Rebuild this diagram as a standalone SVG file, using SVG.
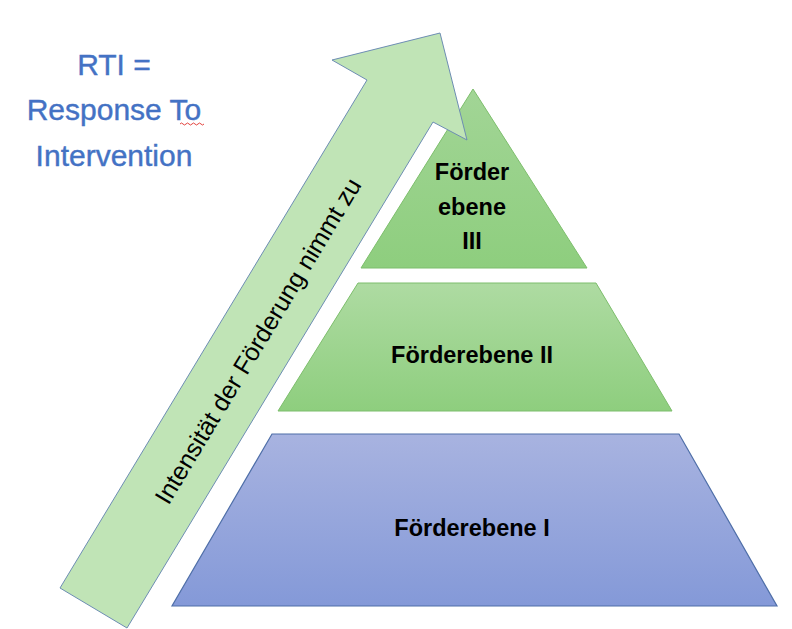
<svg xmlns="http://www.w3.org/2000/svg" width="792" height="629" viewBox="0 0 792 629">
  <defs>
    <linearGradient id="gGreen" x1="0" y1="0" x2="0" y2="1">
      <stop offset="0" stop-color="#AEDBA2"/>
      <stop offset="1" stop-color="#8ECE7E"/>
    </linearGradient>
    <linearGradient id="gGreen3" x1="0" y1="0" x2="0" y2="1">
      <stop offset="0" stop-color="#A2D596"/>
      <stop offset="1" stop-color="#8ECE7E"/>
    </linearGradient>
    <linearGradient id="gBlue" x1="0" y1="0" x2="0" y2="1">
      <stop offset="0" stop-color="#A8B3E0"/>
      <stop offset="1" stop-color="#8499D8"/>
    </linearGradient>
  </defs>
  <style>
    .lvl-green { stroke: #7DBE6C; stroke-width: 1; }
    .lvl-blue { stroke: #4F6FA8; stroke-width: 1.2; }
    .lbl { font-family: "Liberation Sans", Arial, sans-serif; font-weight: bold; font-size: 23.5px; fill: #000; text-anchor: middle; }
    .title { font-family: "Liberation Sans", Arial, sans-serif; font-size: 30px; fill: #4472C4; text-anchor: middle; stroke: #4472C4; stroke-width: 0.4; }
    .arrowtxt { font-family: "Liberation Sans", Arial, sans-serif; font-size: 25px; fill: #000; text-anchor: middle; }
  </style>
  <rect width="792" height="629" fill="#FFFFFF"/>

  <g id="title">
    <text class="title" x="114" y="75">RTI =</text>
    <text class="title" x="114" y="120">Response To</text>
    <text class="title" x="114" y="166">Intervention</text>
    <path d="M180,124 q1.5,-2 3,0 t3,0 t3,0 t3,0 t3,0 t3,0 t3,0 t3,0" fill="none" stroke="#E0302A" stroke-width="0.9"/>
  </g>

  <g id="level3">
    <polygon class="lvl-green" points="473,89 587,268 361,268" fill="url(#gGreen3)"/>
    <text class="lbl" x="472" y="180">Förder</text>
    <text class="lbl" x="472" y="215">ebene</text>
    <text class="lbl" x="472" y="249">III</text>
  </g>

  <g id="level2">
    <polygon class="lvl-green" points="358,283 596,283 672,411 278,411" fill="url(#gGreen)"/>
    <text class="lbl" x="472" y="363">Förderebene II</text>
  </g>

  <g id="level1">
    <polygon class="lvl-blue" points="272,434 679,434 777,606 172,606" fill="url(#gBlue)"/>
    <text class="lbl" x="472" y="536">Förderebene I</text>
  </g>

  <g id="connectors">
    <g id="arrow">
      <polygon points="60,588 367,80 332,60 440,33 467,140 433,122 127,628" fill="#C0E4B6" stroke="#6D8DB3" stroke-width="1"/>
      <text class="arrowtxt" transform="translate(258,341) rotate(-58.9)" x="0" y="0" dy="0.34em">Intensität der Förderung nimmt zu</text>
    </g>
  </g>
</svg>
